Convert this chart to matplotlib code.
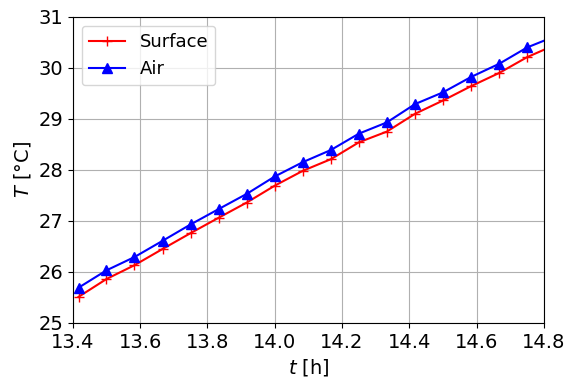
import numpy as np
import matplotlib
matplotlib.use('Agg')
import matplotlib.pyplot as plt

# time in hours, 5 minute steps
t = [13.417, 13.5, 13.583, 13.667, 13.75, 13.833, 13.917, 14.0, 14.083,
     14.167, 14.25, 14.333, 14.417, 14.5, 14.583, 14.667, 14.75, 14.833]
T_surface = [25.51, 25.86, 26.13, 26.45, 26.76, 27.06, 27.36, 27.69, 27.98,
             28.21, 28.54, 28.75, 29.10, 29.36, 29.64, 29.90, 30.21, 30.45]
T_air = [25.69, 26.03, 26.29, 26.61, 26.93, 27.23, 27.53, 27.87, 28.15,
         28.39, 28.71, 28.93, 29.29, 29.52, 29.82, 30.08, 30.40, 30.62]

plt.rcParams['font.size'] = 14

fig = plt.figure(figsize=(5.69, 3.83), dpi=100)
ax = fig.add_axes([0.128, 0.157, 0.828, 0.799])

ax.plot(t, T_surface, color='red', marker='+', markersize=7, lw=1.5, label='Surface')
ax.plot(t, T_air, color='blue', marker='^', markersize=7, lw=1.5, label='Air')

ax.set_xlim(13.4, 14.8)
ax.set_ylim(25, 31)
ax.set_xticks(np.arange(13.4, 14.81, 0.2))
ax.set_xlabel('$t$ [h]')
ax.set_ylabel('$T$ [°C]')
ax.grid(True)
ax.legend(loc='upper left', fontsize=13)

plt.savefig('out.png', dpi=100)
